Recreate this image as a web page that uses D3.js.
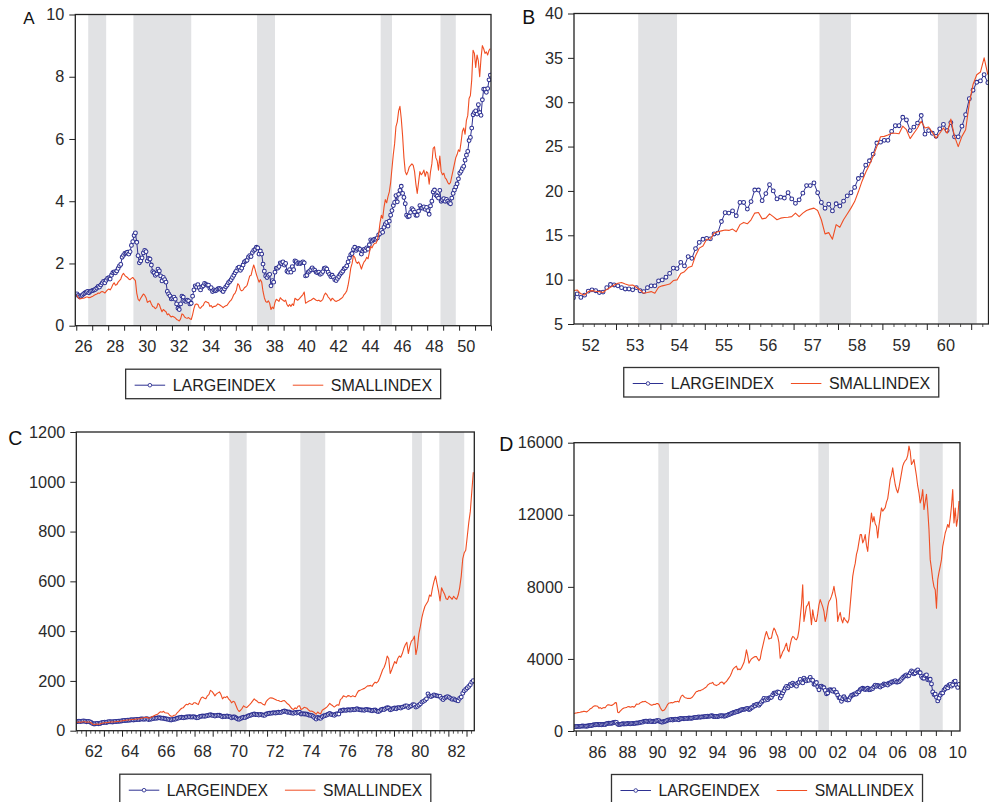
<!DOCTYPE html>
<html>
<head>
<meta charset="utf-8">
<script src="https://cdn.jsdelivr.net/npm/d3@7"></script>
<style>
  body { margin: 0; background: #fff; }
  svg { display: block; }
  text { font-family: "Liberation Sans", Arial, Helvetica, sans-serif; }
</style>
</head>
<body>
<svg id="chart" width="989" height="802"></svg>
<script>
// ---------- data ----------
const seriesNames = ["LARGEINDEX", "SMALLINDEX"];
const panelLetters = ["A", "B", "C", "D"];

// Panel A: monthly, 1926m1 - 1951m12
const startA = [1926, 1];
const largeA = [
  1.02,0.97,0.93,0.95,0.98,1.02,1.05,1.08,1.10,1.06,1.10,1.12,
  1.13,1.15,1.17,1.21,1.26,1.24,1.31,1.37,1.42,1.38,1.46,1.52,
  1.54,1.50,1.62,1.70,1.73,1.70,1.76,1.84,1.92,1.97,2.20,2.26,
  2.32,2.34,2.36,2.30,2.38,2.58,2.70,2.90,2.98,2.68,2.25,2.02,
  2.08,2.18,2.34,2.42,2.38,2.08,2.16,2.14,1.95,1.74,1.70,1.62,
  1.66,1.82,1.76,1.60,1.44,1.55,1.48,1.40,1.10,1.02,0.96,0.86,
  0.88,0.92,0.85,0.70,0.56,0.52,0.70,0.95,0.92,0.80,0.78,0.82,
  0.80,0.70,0.72,0.95,1.15,1.28,1.24,1.32,1.22,1.15,1.24,1.28,
  1.36,1.33,1.30,1.30,1.20,1.22,1.10,1.15,1.12,1.14,1.18,1.20,
  1.18,1.14,1.10,1.18,1.25,1.30,1.38,1.42,1.48,1.55,1.62,1.70,
  1.76,1.85,1.88,1.78,1.85,1.95,2.05,2.08,2.10,2.20,2.25,2.22,
  2.35,2.42,2.45,2.52,2.50,2.30,2.40,2.30,1.98,1.75,1.60,1.55,
  1.62,1.65,1.28,1.45,1.40,1.72,1.85,1.85,1.90,2.02,2.00,2.05,
  1.95,2.00,1.75,1.72,1.80,1.72,1.90,1.80,2.08,2.06,2.00,2.02,
  2.00,2.02,2.05,2.02,1.60,1.62,1.72,1.75,1.80,1.86,1.80,1.78,
  1.72,1.70,1.72,1.65,1.68,1.74,1.84,1.86,1.82,1.72,1.65,1.58,
  1.62,1.56,1.48,1.45,1.52,1.58,1.65,1.70,1.75,1.83,1.86,1.92,
  2.05,2.18,2.28,2.32,2.45,2.52,2.42,2.46,2.48,2.45,2.30,2.40,
  2.45,2.42,2.50,2.46,2.60,2.76,2.72,2.76,2.78,2.78,2.82,2.92,
  2.96,3.06,3.00,3.16,3.26,3.32,3.20,3.36,3.55,3.70,3.86,3.96,
  4.18,3.98,4.22,4.35,4.48,4.25,4.12,3.92,3.55,3.50,3.52,3.64,
  3.76,3.72,3.65,3.55,3.55,3.68,3.86,3.78,3.78,3.82,3.74,3.80,
  3.70,3.58,3.85,4.00,4.30,4.36,4.20,4.16,4.10,4.35,4.00,4.04,
  4.08,4.00,4.06,4.00,3.95,3.92,4.10,4.25,4.36,4.46,4.56,4.72,
  4.90,4.96,5.05,5.12,5.32,5.48,5.60,5.95,6.05,6.35,6.78,6.85,
  6.90,6.80,7.10,6.85,6.76,7.26,7.60,7.60,7.50,7.62,7.90,8.05
];
const smallA = [
  0.98,0.90,0.86,0.87,0.88,0.88,0.90,0.92,0.92,0.90,0.91,0.93,
  0.95,0.98,1.00,1.02,1.05,1.04,1.08,1.10,1.08,1.05,1.10,1.15,
  1.18,1.15,1.22,1.32,1.38,1.30,1.32,1.40,1.45,1.50,1.62,1.68,
  1.62,1.58,1.55,1.50,1.48,1.52,1.55,1.50,1.45,1.05,0.85,0.80,
  0.88,0.95,1.02,0.98,0.90,0.75,0.78,0.80,0.70,0.62,0.60,0.55,
  0.58,0.72,0.68,0.55,0.45,0.52,0.48,0.45,0.35,0.38,0.32,0.28,
  0.30,0.28,0.25,0.20,0.18,0.15,0.22,0.38,0.35,0.28,0.25,0.24,
  0.26,0.22,0.20,0.35,0.55,0.68,0.70,0.68,0.58,0.56,0.62,0.65,
  0.75,0.78,0.75,0.74,0.62,0.65,0.58,0.62,0.62,0.65,0.70,0.68,
  0.65,0.62,0.58,0.62,0.64,0.66,0.72,0.78,0.82,0.90,1.00,1.05,
  1.15,1.35,1.30,1.15,1.12,1.15,1.22,1.25,1.30,1.45,1.60,1.62,
  1.80,1.95,1.82,1.65,1.52,1.40,1.48,1.40,1.10,0.90,0.78,0.75,
  0.80,0.72,0.52,0.60,0.55,0.75,0.85,0.82,0.78,0.90,0.85,0.82,
  0.78,0.82,0.68,0.62,0.68,0.62,0.70,0.65,0.88,0.85,0.82,0.85,
  0.90,0.95,1.00,1.08,0.72,0.75,0.78,0.80,0.82,0.85,0.88,0.85,
  0.82,0.80,0.82,0.78,0.80,0.85,0.98,1.05,1.00,0.92,0.88,0.80,
  0.88,0.85,0.80,0.78,0.80,0.82,0.85,0.88,0.92,1.00,1.05,1.12,
  1.30,1.55,1.85,2.00,2.25,2.20,2.05,2.00,2.05,1.95,1.82,1.95,
  2.05,2.10,2.20,2.15,2.35,2.55,2.50,2.60,2.65,2.65,2.75,2.95,
  3.30,3.55,3.45,3.80,4.05,3.95,4.15,4.30,4.60,5.05,5.50,5.85,
  6.40,6.55,6.90,7.05,6.65,6.10,5.40,4.95,4.85,4.95,5.10,5.15,
  5.20,5.15,4.95,4.55,4.25,4.60,4.95,4.85,4.90,5.00,4.80,4.95,
  4.90,4.55,4.95,5.20,5.70,5.75,5.40,5.30,5.00,5.45,4.95,4.85,
  4.90,4.75,4.70,4.60,4.55,4.60,4.80,5.00,5.20,5.40,5.50,5.65,
  5.60,5.90,6.25,6.35,6.15,6.60,6.75,7.30,7.40,7.90,8.85,8.75,
  8.30,8.70,8.50,8.00,8.60,9.00,8.90,8.75,8.80,8.70,8.85,8.90
];

// Panel B: monthly, 1952m1 - 1961m5
const startB = [1952, 1];
const largeB = [
  7.97,8.40,8.00,8.25,8.70,8.85,8.75,8.55,8.60,9.10,9.45,9.40,
  9.30,9.10,8.95,8.95,8.85,9.10,8.75,8.65,9.10,9.30,9.30,9.85,
  9.97,10.27,10.70,11.30,11.25,11.95,11.55,12.60,12.40,13.50,14.20,14.55,
  14.65,14.60,15.15,15.25,16.55,17.55,17.50,17.75,17.20,18.70,18.70,17.95,
  18.80,20.10,20.10,18.90,19.70,20.70,20.00,19.10,19.30,19.20,19.80,19.10,
  18.60,19.00,19.75,20.60,20.60,20.90,19.80,18.70,18.05,18.50,17.75,18.55,
  18.30,18.85,19.45,19.80,20.40,21.40,21.80,22.90,23.40,24.15,25.40,25.50,
  25.70,25.70,26.70,27.35,27.35,28.30,28.00,26.80,27.20,27.65,28.50,26.40,
  26.80,26.50,26.15,27.00,27.50,26.80,27.70,26.10,26.10,27.30,28.60,30.40,
  31.35,32.25,32.40,33.10,32.20
];
const smallB = [
  8.76,8.84,8.40,8.27,8.65,8.76,8.70,8.65,8.55,8.90,9.14,9.40,
  9.60,9.67,9.50,9.37,9.40,9.14,8.84,8.46,8.55,8.65,8.46,9.14,
  9.30,9.40,9.50,9.90,9.97,10.70,10.90,11.36,11.50,12.70,13.55,13.80,
  14.56,14.56,15.24,15.40,15.50,15.60,15.55,15.70,15.40,16.20,16.45,16.30,
  16.75,17.50,17.57,16.85,16.93,17.42,17.10,16.75,16.93,17.00,17.04,17.10,
  17.50,17.10,17.50,17.80,17.95,18.06,17.80,16.75,15.16,15.30,14.56,16.20,
  15.90,16.75,17.40,18.06,18.80,19.90,21.10,22.10,22.95,23.90,25.00,26.10,
  26.15,26.30,26.50,26.50,26.45,27.30,26.90,25.90,26.50,27.10,27.85,27.10,
  27.20,26.60,25.95,26.50,27.10,26.50,28.10,26.15,25.00,26.15,26.90,29.90,
  32.00,33.10,33.40,35.00,33.10
];

// Panel C: monthly, 1961m6 - 1983m5
const startC = [1961, 6];
const largeC = [
  36,37,38,37,38,39,38,
  36,37,36,33,29,27,28,29,28,29,32,33,
  34,33,35,36,36,35,36,37,37,38,38,39,
  40,41,41,42,42,43,44,43,44,45,45,45,
  47,47,46,47,48,45,46,47,49,50,50,51,
  52,51,50,50,48,47,46,44,43,45,46,47,
  50,51,53,54,52,53,55,55,56,55,55,56,
  54,52,53,57,58,59,58,59,61,62,64,62,
  61,59,61,62,62,59,56,58,57,59,57,56,
  52,55,55,51,47,46,49,52,54,53,56,59,
  61,63,65,67,65,65,63,65,64,62,62,67,
  68,70,70,71,72,71,72,74,73,74,77,79,
  77,74,75,72,71,70,73,71,74,74,67,68,
  67,67,66,63,62,61,57,52,47,53,51,50,
  56,59,61,63,66,69,65,64,62,66,68,67,
  80,80,83,82,82,84,83,83,85,84,85,88,
  85,84,83,83,82,85,84,83,82,80,82,83,
  79,77,79,84,86,85,89,92,91,84,86,89,
  91,88,92,93,91,95,96,100,100,93,97,100,
  105,104,95,98,103,108,115,118,122,128,148,140,
  137,140,144,142,140,139,138,130,125,131,135,137,
  134,130,126,128,124,122,120,130,135,150,160,166,
  172,178,185,195,201
];
const smallC = [
  33,34,35,34,35,36,36,
  34,35,35,32,27,25,26,27,26,27,30,31,
  32,32,33,34,35,35,35,36,37,37,38,39,
  40,41,42,43,43,44,45,45,46,47,47,48,
  50,51,52,53,54,50,52,55,58,61,64,66,
  72,76,74,78,72,71,70,62,58,58,62,63,
  72,78,85,90,92,100,106,104,110,107,105,112,
  112,108,105,120,132,135,130,128,140,145,162,158,
  150,140,148,152,156,145,128,135,133,138,128,122,
  112,118,115,100,85,77,82,90,100,95,93,99,
  105,112,120,128,122,118,112,113,110,105,103,118,
  125,130,132,131,128,125,122,121,118,117,120,121,
  115,108,104,96,88,85,92,88,98,100,85,88,
  94,92,90,83,78,79,76,72,66,75,70,68,
  82,86,90,95,102,110,104,100,95,100,104,102,
  125,130,140,137,135,141,140,136,140,138,137,150,
  160,162,165,168,170,175,180,180,182,178,188,195,
  192,198,212,228,245,255,272,300,290,230,245,262,
  278,270,290,300,295,310,330,345,355,310,340,360,
  366,380,306,335,390,420,455,480,500,510,520,545,
  540,574,600,621,590,560,521,574,560,548,530,527,
  541,535,528,540,532,528,545,575,620,690,715,725,
  780,836,880,960,1038
];

// Panel D: monthly, 1984m11 - 2010m7
const startD = [1984, 11];
const largeD = [
  235,240,
  245,255,255,258,270,275,272,268,262,275,292,305,
  305,325,345,340,358,365,345,370,340,358,368,360,
  400,420,430,425,430,445,470,490,480,380,350,370,
  385,400,390,395,395,415,410,395,410,420,415,420,
  450,440,450,475,495,490,535,545,545,530,540,555,
  520,525,540,525,575,570,570,520,495,490,525,540,
  560,600,615,615,640,610,640,655,645,650,625,695,
  680,690,680,700,700,690,720,705,710,715,740,750,
  755,765,780,760,780,785,780,810,805,820,815,825,
  850,830,795,805,815,795,825,855,835,855,820,830,
  855,885,915,940,975,1000,1030,1035,1080,1075,1120,1140,
  1180,1190,1200,1215,1245,1250,1195,1220,1290,1325,1420,1395,
  1480,1490,1430,1510,1600,1680,1810,1710,1800,1740,1820,1850,
  1870,2000,2100,2120,2080,2170,2140,1830,1950,2110,2240,2370,
  2470,2390,2490,2580,2520,2660,2570,2560,2490,2650,2700,2860,
  2720,2670,2930,2840,2780,2850,2810,2980,2830,2810,2590,2600,
  2690,2450,2290,2470,2490,2430,2400,2250,2070,2110,2270,2290,
  2260,2210,2300,2160,2140,1990,1840,1850,1650,1790,1900,1790,
  1740,1720,1730,1870,1970,2000,2030,2070,2050,2160,2180,2300,
  2340,2370,2330,2300,2330,2370,2290,2300,2330,2360,2460,2540,
  2480,2530,2490,2440,2520,2520,2610,2590,2600,2550,2650,2650,
  2720,2720,2750,2790,2710,2720,2740,2800,2870,2960,3020,3070,
  3110,3050,3080,3220,3330,3280,3170,3220,3340,3390,3250,3230,
  3030,2940,2930,3070,3110,2850,2830,2870,2610,2170,2020,2040,
  1870,1670,1820,1990,2100,2110,2270,2350,2440,2390,2540,2590,
  2490,2570,2730,2770,2550,2420,2590
];
const smallD = [
  970,990,
  1000,1020,1030,1040,1060,1075,1100,1080,1060,1100,1160,1230,
  1260,1330,1380,1400,1390,1370,1260,1300,1240,1280,1300,1290,
  1390,1450,1460,1430,1420,1450,1500,1575,1560,1040,1020,1100,
  1170,1240,1280,1290,1300,1350,1360,1320,1340,1360,1320,1380,
  1500,1480,1500,1560,1600,1630,1620,1650,1600,1560,1520,1470,
  1430,1450,1480,1470,1520,1530,1470,1300,1180,1120,1150,1230,
  1350,1480,1550,1560,1580,1560,1600,1640,1620,1650,1600,1800,
  1950,1990,1900,1850,1830,1800,1820,1800,1840,1900,2000,2100,
  2190,2200,2250,2230,2280,2300,2350,2400,2450,2550,2600,2650,
  2650,2700,2580,2550,2520,2560,2600,2680,2720,2700,2600,2700,
  2745,2850,2950,3050,3200,3400,3485,3550,3600,3400,3450,3400,
  3500,3650,3800,4100,4500,4200,3760,3900,4000,4050,4100,4130,
  4130,4000,3900,4000,4400,4690,5000,5300,5525,5300,5100,5150,
  5150,5500,5710,5600,5400,5250,4900,4040,4200,4400,4500,4700,
  4875,4500,4400,4800,5100,5250,5200,5100,5060,5200,5600,6300,
  7000,8120,6080,6500,6915,7000,7190,6600,5900,6730,6300,6080,
  6080,6500,7000,7290,7100,6900,6640,6080,6400,6900,7190,7300,
  7470,7700,8030,7600,7290,6080,6400,6580,6200,6000,6300,6170,
  6100,6000,6200,7000,7800,8580,9000,9300,9800,10070,10500,10900,
  10900,10440,10600,10900,10300,9970,10800,11400,12100,11600,11900,11500,
  11360,10720,11400,11900,12380,12200,12300,12400,12700,12900,13400,13960,
  14200,14610,14100,13680,13400,13220,13500,13900,14300,14700,14890,15000,
  15070,15300,15810,15500,14790,14900,15070,14600,14150,13600,13220,12660,
  12900,13400,12290,12700,13130,12300,11180,9510,9000,8400,8000,7840,
  6820,8400,8800,9140,9510,10250,10600,10990,11200,11460,11300,11800,
  12470,13400,11550,12380,11360,11800,12760
];

// Axis ticks and labels
const yTicksA = [0, 2, 4, 6, 8, 10];
const yTicksB = [5, 10, 15, 20, 25, 30, 35, 40];
const yTicksC = [0, 200, 400, 600, 800, 1000, 1200];
const yTicksD = [0, 4000, 8000, 12000, 16000];
const xLabelYearsA = [1926, 1928, 1930, 1932, 1934, 1936, 1938, 1940, 1942, 1944, 1946, 1948, 1950];
const xLabelYearsB = [1952, 1953, 1954, 1955, 1956, 1957, 1958, 1959, 1960];
const xLabelYearsC = [1962, 1964, 1966, 1968, 1970, 1972, 1974, 1976, 1978, 1980, 1982];
const xLabelYearsD = [1986, 1988, 1990, 1992, 1994, 1996, 1998, 2000, 2002, 2004, 2006, 2008, 2010];

// Recessions (peak month, trough month)
const recessionsA = [["1926-10", "1927-11"], ["1929-08", "1933-03"], ["1937-05", "1938-06"], ["1945-02", "1945-10"], ["1948-11", "1949-10"]];
const recessionsB = [["1953-07", "1954-05"], ["1957-08", "1958-04"], ["1960-04", "1961-02"]];
const recessionsC = [["1969-12", "1970-11"], ["1973-11", "1975-03"], ["1980-01", "1980-07"], ["1981-07", "1982-11"]];
const recessionsD = [["1990-07", "1991-03"], ["2001-03", "2001-11"], ["2007-12", "2009-06"]];

// ---------- layout ----------
const layouts = [
  { left: 75.3, right: 491, top: 14.5, bottom: 325.7, tDomain: [1925.94, 1952.0], yDomain: [0, 10],
    majorLen: 5, minor: false, letterX: 23.3, letterY: 24, letterSize: 17, legendFont: 16 },
  { left: 574, right: 988.5, top: 13.5, bottom: 324, tDomain: [1952.054, 1961.39], yDomain: [5, 40],
    majorLen: 6, minor: true, letterX: 522.3, letterY: 24, letterSize: 19.5, legendFont: 16 },
  { left: 76.3, right: 474.3, top: 432, bottom: 730.7, tDomain: [1961.478, 1983.43], yDomain: [0, 1200],
    majorLen: 6, minor: true, letterX: 8.3, letterY: 445, letterSize: 19.5, legendFont: 15.7 },
  { left: 574, right: 960, top: 442.7, bottom: 731, tDomain: [1984.88, 2010.61], yDomain: [0, 16000],
    majorLen: 5, minor: false, letterX: 499.3, letterY: 450.7, letterSize: 19.5, legendFont: 15.7 }
];

const panels = [
  { start: startA, large: largeA, small: smallA, yTicks: yTicksA, xYears: xLabelYearsA, rec: recessionsA },
  { start: startB, large: largeB, small: smallB, yTicks: yTicksB, xYears: xLabelYearsB, rec: recessionsB },
  { start: startC, large: largeC, small: smallC, yTicks: yTicksC, xYears: xLabelYearsC, rec: recessionsC },
  { start: startD, large: largeD, small: smallD, yTicks: yTicksD, xYears: xLabelYearsD, rec: recessionsD }
];

const COLOR_LARGE = "#2e3192";
const COLOR_SMALL = "#f04e23";
const COLOR_SHADE = "#e1e2e4";
const COLOR_AXIS = "#222";
const COLOR_TEXT = "#2a2a2a";
const TICK_FONT = 16.3;

// ---------- drawing ----------
const svg = d3.select("#chart");
const defs = svg.append("defs");
const obsTime = (start, i) => start[0] + (start[1] - 1 + i + 0.5) / 12;
const monthTime = s => { const [yy, mm] = s.split("-").map(Number); return yy + (mm - 0.5) / 12; };
const yy2 = d3.format("02d");
const plain = d3.format("d");

panels.forEach((p, pi) => {
  const L = layouts[pi];
  const x = d3.scaleLinear().domain(L.tDomain).range([L.left, L.right]);
  const y = d3.scaleLinear().domain(L.yDomain).range([L.bottom, L.top]);
  const g = svg.append("g");

  const clipId = "plot-clip-" + pi;
  defs.append("clipPath").attr("id", clipId).append("rect")
    .attr("x", L.left).attr("y", L.top).attr("width", L.right - L.left).attr("height", L.bottom - L.top);

  const plot = g.append("g").attr("clip-path", `url(#${clipId})`);

  // recession shading: from half a month before the peak observation to the trough observation
  plot.append("g").selectAll("rect").data(p.rec).join("rect")
    .attr("x", d => x(monthTime(d[0]) - 1 / 24))
    .attr("width", d => x(monthTime(d[1])) - x(monthTime(d[0]) - 1 / 24))
    .attr("y", L.top).attr("height", L.bottom - L.top)
    .attr("fill", COLOR_SHADE);

  const line = d3.line().x((d, i) => x(obsTime(p.start, i))).y(d => y(d));

  // large-cap index: line with open circle markers
  plot.append("path").datum(p.large).attr("d", line)
    .attr("fill", "none").attr("stroke", COLOR_LARGE).attr("stroke-width", 1);
  plot.append("g").selectAll("circle").data(p.large).join("circle")
    .attr("cx", (d, i) => x(obsTime(p.start, i))).attr("cy", d => y(d))
    .attr("r", 1.9).attr("fill", "#fff").attr("stroke", COLOR_LARGE).attr("stroke-width", 1.05);

  // small-cap index: plain line
  plot.append("path").datum(p.small).attr("d", line)
    .attr("fill", "none").attr("stroke", COLOR_SMALL).attr("stroke-width", 1.1)
    .attr("stroke-linejoin", "round");

  // y axis
  const yAxis = g.append("g").attr("transform", `translate(${L.left},0)`)
    .call(d3.axisLeft(y).tickValues(p.yTicks).tickSize(6).tickPadding(5).tickFormat(plain));
  yAxis.select(".domain").remove();
  yAxis.selectAll("line").attr("stroke", COLOR_AXIS);
  yAxis.selectAll("text").attr("font-size", TICK_FONT).attr("fill", COLOR_TEXT)
    .attr("font-family", '"Liberation Sans", Arial, sans-serif');

  // x axis: year ticks, optional quarter ticks, labels centred inside the year
  const [t0, t1] = L.tDomain;
  const majors = d3.range(Math.ceil(t0), Math.floor(t1) + 1);
  const xMajor = g.append("g").attr("transform", `translate(0,${L.bottom})`)
    .call(d3.axisBottom(x).tickValues(majors).tickSize(L.majorLen).tickFormat(""));
  xMajor.select(".domain").remove();
  xMajor.selectAll("line").attr("stroke", COLOR_AXIS);

  if (L.minor) {
    const minors = d3.range(Math.ceil(t0 * 4) / 4, t1, 0.25).filter(t => Math.abs(t - Math.round(t)) > 1e-6);
    const xMinor = g.append("g").attr("transform", `translate(0,${L.bottom})`)
      .call(d3.axisBottom(x).tickValues(minors).tickSize(3).tickFormat(""));
    xMinor.select(".domain").remove();
    xMinor.selectAll("line").attr("stroke", "#555");
  }

  const xLab = g.append("g").attr("transform", `translate(0,${L.bottom})`)
    .call(d3.axisBottom(x).tickValues(p.xYears.map(v => v + 0.42)).tickSize(0)
      .tickFormat(t => yy2(Math.floor(t) % 100)));
  xLab.select(".domain").remove();
  xLab.selectAll("text").attr("y", 26.5).attr("dy", 0).attr("font-size", TICK_FONT).attr("fill", COLOR_TEXT)
    .attr("font-family", '"Liberation Sans", Arial, sans-serif');

  // frame
  g.append("rect").attr("x", L.left).attr("y", L.top)
    .attr("width", L.right - L.left).attr("height", L.bottom - L.top)
    .attr("fill", "none").attr("stroke", COLOR_AXIS).attr("stroke-width", 1.3);

  // panel letter
  g.append("text").attr("x", L.letterX).attr("y", L.letterY)
    .attr("font-size", L.letterSize).attr("fill", "#111").text(panelLetters[pi]);

  // legend, centred under the frame
  const lg = g.append("g");
  const legTop = L.bottom + 43.5;
  const box = lg.append("rect").attr("y", legTop).attr("height", 29.5)
    .attr("fill", "#fff").attr("stroke", "#333").attr("stroke-width", 1.3);
  let cx = 0;
  const items = lg.append("g");
  seriesNames.forEach((name, si) => {
    const color = si === 0 ? COLOR_LARGE : COLOR_SMALL;
    const lineStart = cx + (si === 0 ? 9 : 17);
    items.append("line").attr("x1", lineStart).attr("x2", lineStart + 30.5)
      .attr("y1", legTop + 16).attr("y2", legTop + 16)
      .attr("stroke", color).attr("stroke-width", 1);
    if (si === 0) {
      items.append("circle").attr("cx", lineStart + 15.25).attr("cy", legTop + 16).attr("r", 1.8)
        .attr("fill", "#fff").attr("stroke", color).attr("stroke-width", 0.9);
    }
    const t = items.append("text").attr("x", lineStart + 38).attr("y", legTop + 21.5)
      .attr("font-size", L.legendFont).attr("fill", "#222").text(name);
    cx = lineStart + 38 + t.node().getComputedTextLength();
  });
  const legW = cx + 8.5;
  const legX = (L.left + L.right) / 2 - legW / 2;
  box.attr("x", legX).attr("width", legW);
  items.attr("transform", `translate(${legX},0)`);
});
</script>
</body>
</html>
